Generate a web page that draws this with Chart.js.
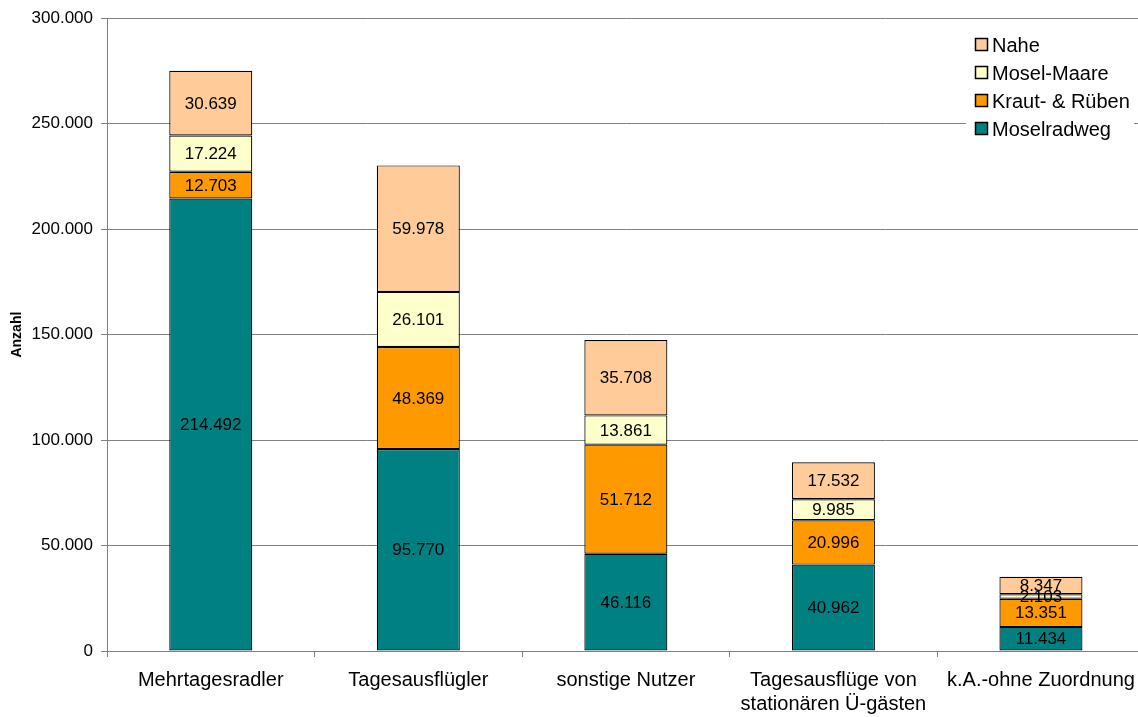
<!DOCTYPE html>
<html>
<head>
<meta charset="utf-8">
<script src="https://cdn.jsdelivr.net/npm/chart.js@4"></script>
<style>
  html, body { margin: 0; padding: 0; background: #fff; }
  /* the plot runs a little past the right edge, as in the original */
  #wrap { width: 1138px; height: 717px; overflow: hidden; }
</style>
</head>
<body>
<div id="wrap"><canvas id="chart" width="1146" height="717"></canvas></div>
<script>
// data
const categories = [
    'Mehrtagesradler',
    'Tagesausflügler',
    'sonstige Nutzer',
    ['Tagesausflüge von', 'stationären Ü-gästen'],
    'k.A.-ohne Zuordnung'
];
const moselradweg = [214492, 95770, 46116, 40962, 11434];
const krautRueben = [12703, 48369, 51712, 20996, 13351];
const moselMaare = [17224, 26101, 13861, 9985, 2103];
const nahe = [30639, 59978, 35708, 17532, 8347];
const yTicks = [0, 50000, 100000, 150000, 200000, 250000, 300000];

const font = '"Liberation Sans", Arial, sans-serif';

function fmt(v) {
    return String(v).replace(/\B(?=(\d{3})+(?!\d))/g, '.');
}

// value labels inside each segment
const segLabels = {
    id: 'segLabels',
    afterDatasetsDraw(chart) {
        const ctx = chart.ctx;
        ctx.save();
        ctx.font = '17px ' + font;
        ctx.fillStyle = '#000';
        ctx.textAlign = 'center';
        ctx.textBaseline = 'middle';
        chart.data.datasets.forEach((ds, i) => {
            chart.getDatasetMeta(i).data.forEach((bar, j) => {
                const y = (bar.y + bar.base) / 2;
                ctx.fillText(fmt(ds.data[j]), bar.x, y + 1);
            });
        });
        ctx.restore();
    }
};

// legend sits inside the plot, top right, reversed order
const innerLegend = {
    id: 'innerLegend',
    afterDraw(chart) {
        const ctx = chart.ctx;
        const x0 = 966;
        ctx.save();
        ctx.fillStyle = '#fff';
        ctx.fillRect(x0, 27, 168, 118);
        ctx.font = '20px ' + font;
        ctx.textBaseline = 'middle';
        const ds = chart.data.datasets.slice().reverse();
        ds.forEach((d, k) => {
            const cy = 45 + k * 28;
            ctx.fillStyle = d.backgroundColor;
            ctx.fillRect(x0 + 9.5, cy - 6.5, 12, 12);
            ctx.strokeStyle = '#000';
            ctx.lineWidth = 1.5;
            ctx.strokeRect(x0 + 9.5, cy - 6.5, 12, 12);
            ctx.fillStyle = '#000';
            ctx.fillText(d.label, x0 + 26, cy + 1);
        });
        ctx.restore();
    }
};

function series(label, data, color) {
    return {
        label: label,
        data: data,
        backgroundColor: color,
        borderColor: '#000',
        borderWidth: 1.2,
        borderSkipped: false,
        barPercentage: 0.4,
        categoryPercentage: 1
    };
}

new Chart(document.getElementById('chart'), {
    type: 'bar',
    data: {
        labels: categories,
        datasets: [
            series('Moselradweg', moselradweg, '#008080'),
            series('Kraut- & Rüben', krautRueben, '#FF9900'),
            series('Mosel-Maare', moselMaare, '#FFFFCC'),
            series('Nahe', nahe, '#FFCC99')
        ]
    },
    options: {
        responsive: false,
        animation: false,
        layout: { padding: { top: 15, right: 1, left: 0, bottom: 0 } },
        plugins: {
            legend: { display: false },
            tooltip: { enabled: false }
        },
        scales: {
            x: {
                stacked: true,
                grid: {
                    drawOnChartArea: false,
                    drawTicks: true,
                    tickLength: 6,
                    color: '#808080',
                    offset: true
                },
                border: { color: '#808080' },
                ticks: {
                    color: '#000',
                    font: { family: font, size: 20 },
                    padding: 11,
                    maxRotation: 0,
                    autoSkip: false
                },
                afterFit(scale) { scale.height = 66; }
            },
            y: {
                stacked: true,
                min: 0,
                max: 300000,
                afterBuildTicks(scale) {
                    scale.ticks = yTicks.map(v => ({ value: v }));
                },
                grid: {
                    color: '#808080',
                    tickLength: 6
                },
                border: { color: '#808080' },
                ticks: {
                    color: '#000',
                    font: { family: font, size: 17 },
                    padding: 8,
                    callback: v => fmt(v)
                },
                title: {
                    display: true,
                    text: 'Anzahl',
                    color: '#000',
                    font: { family: font, size: 14, weight: 'bold' },
                    padding: { top: 9, bottom: 0 }
                },
                afterFit(scale) { scale.width = 107; }
            }
        }
    },
    plugins: [segLabels, innerLegend]
});
</script>
</body>
</html>
